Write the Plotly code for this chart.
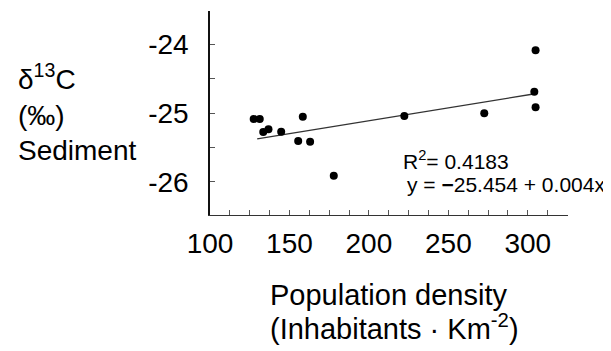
import plotly.graph_objects as go

# Data
density = [127.5, 131.3, 133.5, 136.8, 144.8, 155.5, 158.4, 163.0, 177.9, 222.3, 272.6, 304.9, 304.1, 304.9]
d13c = [-25.085, -25.085, -25.274, -25.235, -25.27, -25.404, -25.052, -25.415, -25.908, -25.041, -25.002, -24.087, -24.688, -24.915]

# Regression line as drawn in the picture
fit_x = [129.7, 303.6]
fit_intercept = -25.862
fit_slope = 0.003755
fit_y = [fit_intercept + fit_slope * x for x in fit_x]

x_tickvals = [100, 150, 200, 250, 300]
x_ticktext = ["100", "150", "200", "250", "300"]
y_tickvals = [-24, -25, -26]
y_ticktext = ["-24", "-25", "-26"]

FONT = "Liberation Sans, Arial, sans-serif"

# page offset (body margin) compensation
OFF = 8
W, H = 611 - OFF, 351 - OFF
# plot area in page pixels
X0, X1, Y0, Y1 = 209.5, 567.7, 11, 215
L, R, T, B = X0 - OFF, 611 - X1, Y0 - OFF, 351 - Y1
PW, PH = X1 - X0, Y1 - Y0


def px(x):
    return (x - X0) / PW


def py(y):
    return (Y1 - y) / PH


fig = go.Figure()
fig.add_trace(go.Scatter(x=fit_x, y=fit_y, mode="lines",
                         line=dict(color="#333333", width=1.3), hoverinfo="skip"))
fig.add_trace(go.Scatter(x=density, y=d13c, mode="markers",
                         marker=dict(color="black", size=8)))

fig.update_layout(
    width=W, height=H,
    margin=dict(l=L, r=R, t=T, b=B, pad=0),
    plot_bgcolor="white", paper_bgcolor="white",
    showlegend=False,
    font=dict(family=FONT, color="black", size=28),
)

fig.update_xaxes(
    range=[100, 325.3], showgrid=False, zeroline=False,
    showline=True, linecolor="#333333", linewidth=1.3,
    tickmode="array", tickvals=x_tickvals, ticktext=x_ticktext,
    ticks="inside", ticklen=5, tickcolor="#555555", tickwidth=1,
    tickfont=dict(size=28, family=FONT, color="black"),
    ticklabelstandoff=3,
    minor=dict(tickmode="linear", tick0=100, dtick=12.5, ticks="inside",
               ticklen=5, tickcolor="#555555", tickwidth=1, showgrid=False),
)
fig.update_yaxes(
    range=[-26.48, -23.516], showgrid=False, zeroline=False,
    showline=True, linecolor="#111111", linewidth=1.5,
    tickmode="array", tickvals=y_tickvals, ticktext=y_ticktext,
    ticks="inside", ticklen=5, tickcolor="#555555", tickwidth=1,
    tickfont=dict(size=28, family=FONT, color="black"),
    ticklabelstandoff=14,
    minor=dict(tickmode="linear", tick0=-26, dtick=0.5, ticks="inside",
               ticklen=5, tickcolor="#555555", tickwidth=1, showgrid=False),
)

ann = [
    ("δ<sup>13</sup>C", 15, 77, 28),
    ("(‰)", 15, 115, 28),
    ("Sediment", 15, 150, 28),
    ("Population density", 268, 295, 29),
    ("(Inhabitants · Km<sup>-2</sup>)", 268, 327, 29),
    ("R<sup>2</sup>= 0.4183", 401, 160, 21),
    ("y = <b>−</b>25.454 + 0.004x", 405, 184, 21),
]
for text, x, y, s in ann:
    fig.add_annotation(text=text, x=px(x), y=py(y), xref="paper", yref="paper",
                       xanchor="left", yanchor="middle", showarrow=False,
                       align="left", font=dict(size=s, family=FONT, color="black"))

fig.write_html("out.html")
